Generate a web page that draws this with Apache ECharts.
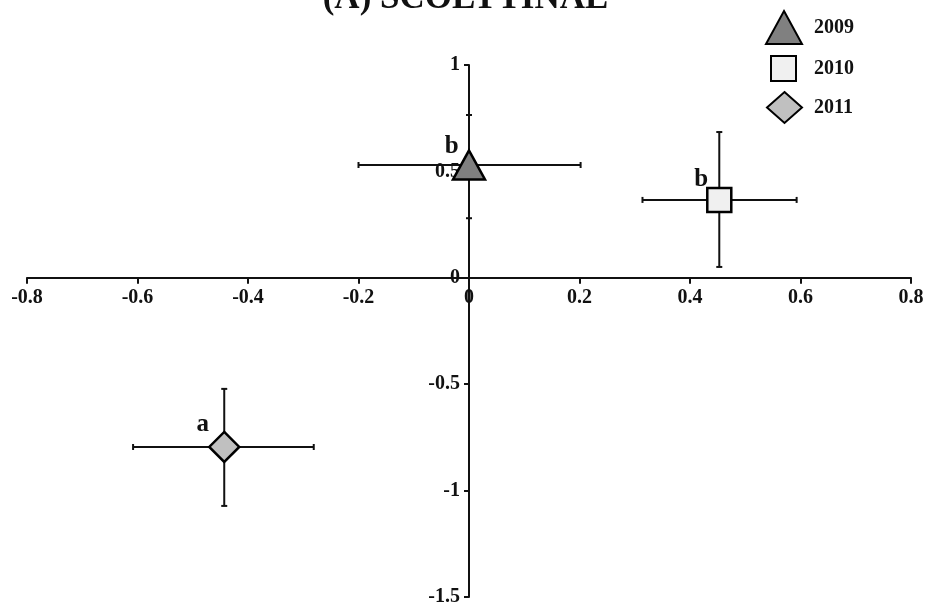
<!DOCTYPE html>
<html>
<head>
<meta charset="utf-8">
<script src="https://cdn.jsdelivr.net/npm/echarts@6/dist/echarts.min.js"></script>
<style>
  html, body { margin: 0; padding: 0; background: #fff; }
  #chart { width: 931px; height: 610px; }
</style>
</head>
<body>
<div id="chart"></div>
<script>
// data
var years   = ['2009', '2010', '2011'];
var xMean   = [0.00, 0.453, -0.443];
var yMean   = [0.53, 0.366, -0.795];
var xLow    = [-0.20, 0.314, -0.608];
var xHigh   = [0.202, 0.593, -0.281];
var yLow    = [0.28, 0.051, -1.072];
var yHigh   = [0.765, 0.685, -0.522];
var letters = ['b', 'b', 'a'];

var symbols = ['triangle', 'rect', 'diamond'];
var sizes   = [[32, 29], 24, 30];
var fills   = ['#808080', '#f0f0f0', '#c0c0c0'];
var labelOffsets = [[12, -18], [7, -20], [6, -22]];

// legend icon sizes and rows
var legendIcon = [[36, 33], [25, 25], [35, 31]];
var legendTop  = [10, 55, 91];
var legendLeft = [765, 770, 766];
var legendPad  = [7, 13, 7];

var serif = '"Liberation Serif", "DejaVu Serif", serif';

var W = 931, H = 610;
var G = { left: 27, right: 20, top: 65, bottom: 13 };
var xMin = -0.8, xMax = 0.8, yMin = -1.5, yMax = 1;
// move both axes onto the zero lines (labels follow the line this way)
var gw = W - G.left - G.right, gh = H - G.top - G.bottom;
var yAxisOffset = -gw * (0 - xMin) / (xMax - xMin);
var xAxisOffset = -gh * (0 - yMin) / (yMax - yMin);

var chart = echarts.init(document.getElementById('chart'));

var errData = years.map(function (y, i) {
    return [xMean[i], yMean[i], xLow[i], xHigh[i], yLow[i], yHigh[i]];
});

function renderErr(params, api) {
    var c = api.coord([api.value(0), api.value(1)]);
    var l = api.coord([api.value(2), api.value(1)]);
    var r = api.coord([api.value(3), api.value(1)]);
    var t = api.coord([api.value(0), api.value(5)]);
    var b = api.coord([api.value(0), api.value(4)]);
    var cap = 3;
    var st = { stroke: '#111', lineWidth: 2 };
    return {
        type: 'group',
        children: [
            { type: 'line', shape: { x1: l[0], y1: c[1], x2: r[0], y2: c[1] }, style: st },
            { type: 'line', shape: { x1: l[0], y1: c[1] - cap, x2: l[0], y2: c[1] + cap }, style: st },
            { type: 'line', shape: { x1: r[0], y1: c[1] - cap, x2: r[0], y2: c[1] + cap }, style: st },
            { type: 'line', shape: { x1: c[0], y1: t[1], x2: c[0], y2: b[1] }, style: st },
            { type: 'line', shape: { x1: c[0] - cap, y1: t[1], x2: c[0] + cap, y2: t[1] }, style: st },
            { type: 'line', shape: { x1: c[0] - cap, y1: b[1], x2: c[0] + cap, y2: b[1] }, style: st }
        ]
    };
}

var series = [{
    name: 'err',
    type: 'custom',
    renderItem: renderErr,
    data: errData,
    z: 1,
    silent: true
}];

years.forEach(function (y, i) {
    series.push({
        name: y,
        type: 'scatter',
        symbol: symbols[i],
        symbolSize: sizes[i],
        data: [[xMean[i], yMean[i]]],
        z: 5,
        itemStyle: { color: fills[i], borderColor: '#000', borderWidth: 2.5, opacity: 1 },
        label: {
            show: true,
            formatter: letters[i],
            position: 'left',
            offset: labelOffsets[i],
            fontFamily: serif,
            fontWeight: 'bold',
            fontSize: 25,
            color: '#111'
        }
    });
});

// one legend per year so each icon can have its own size
var legends = years.map(function (y, i) {
    return {
        data: [{ name: y, icon: symbols[i] }],
        left: legendLeft[i],
        top: legendTop[i],
        itemWidth: legendIcon[i][0],
        itemHeight: legendIcon[i][1],
        selectedMode: false,
        padding: 0,
        textStyle: { fontFamily: serif, fontWeight: 'bold', fontSize: 20, color: '#111',
                     padding: [0, 0, 0, legendPad[i]] }
    };
});

var axisLabelStyle = { fontFamily: serif, fontWeight: 'bold', fontSize: 20, color: '#111' };

var option = {
    animation: false,
    title: {
        text: '(A) SCOLYTINAE',
        left: 'center',
        top: -24,
        textStyle: { fontFamily: serif, fontWeight: 'bold', fontSize: 35, color: '#111' }
    },
    legend: legends,
    grid: { left: G.left, right: G.right, top: G.top, bottom: G.bottom, outerBoundsMode: 'none' },
    xAxis: {
        type: 'value',
        min: xMin,
        max: xMax,
        interval: 0.2,
        offset: xAxisOffset,
        splitLine: { show: false },
        axisLine: { onZero: false, lineStyle: { color: '#111', width: 2 } },
        axisTick: { length: 6, lineStyle: { color: '#111', width: 2 } },
        axisLabel: Object.assign({ margin: 10 }, axisLabelStyle)
    },
    yAxis: {
        type: 'value',
        min: yMin,
        max: yMax,
        interval: 0.5,
        offset: yAxisOffset,
        splitLine: { show: false },
        axisLine: { onZero: false, lineStyle: { color: '#111', width: 2 } },
        axisTick: { length: 5, lineStyle: { color: '#111', width: 2 } },
        axisLabel: Object.assign({ margin: 9 }, axisLabelStyle)
    },
    series: series
};

chart.setOption(option);
</script>
</body>
</html>
